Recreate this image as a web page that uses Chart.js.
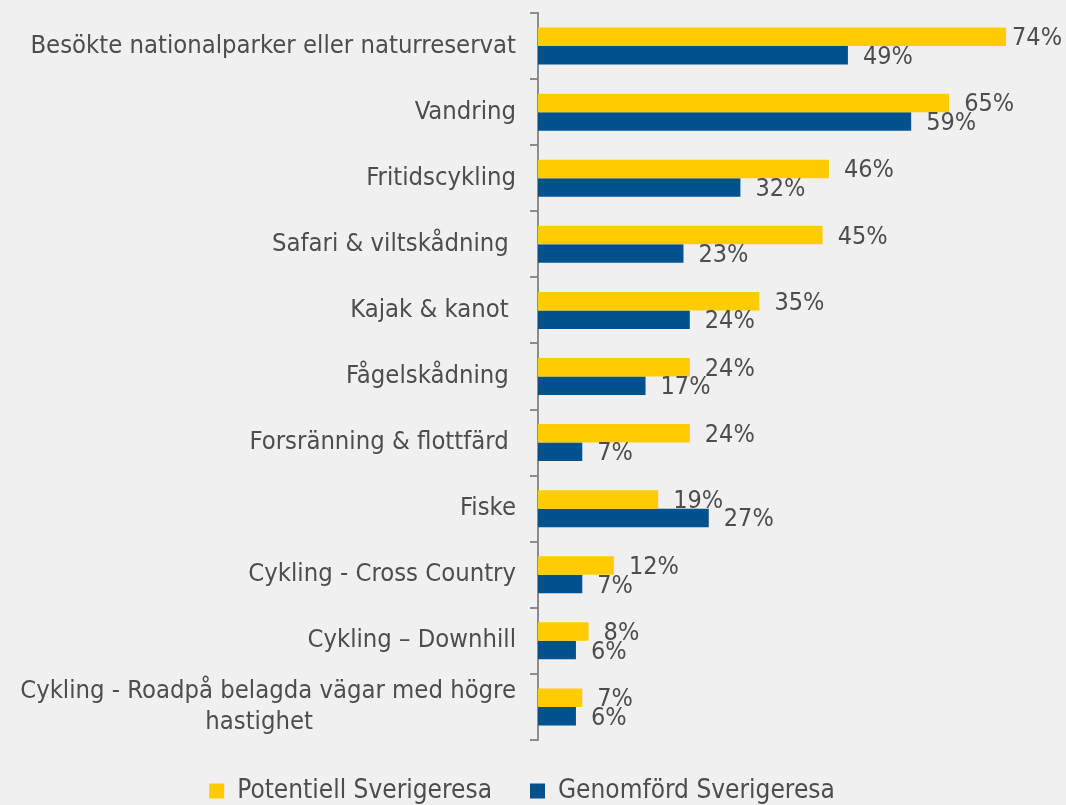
<!DOCTYPE html>
<html>
<head>
<meta charset="utf-8">
<script src="https://cdn.jsdelivr.net/npm/chart.js@4/dist/chart.umd.min.js"></script>
<style>
  html, body { margin: 0; padding: 0; background: #f0f0f0; }
  #wrap { width: 1066px; height: 805px; }
</style>
</head>
<body>
<div id="wrap"><canvas id="chart" width="1066" height="805"></canvas></div>
<script>
const categories = [
  'Besökte nationalparker eller naturreservat',
  'Vandring',
  'Fritidscykling',
  'Safari & viltskådning ',
  'Kajak & kanot ',
  'Fågelskådning ',
  'Forsränning & flottfärd ',
  'Fiske',
  'Cykling - Cross Country',
  'Cykling – Downhill',
  ['Cykling - Roadpå belagda vägar med högre', 'hastighet                            ']
];
const potentiell = [74, 65, 46, 45, 35, 24, 24, 19, 12, 8, 7];
const genomford = [49, 59, 32, 23, 24, 17, 7, 27, 7, 6, 6];
const seriesNames = ['Potentiell Sverigeresa', 'Genomförd Sverigeresa'];

const FONT = "'Liberation Sans Narrow', 'DejaVu Sans Condensed', 'Roboto', sans-serif";
const TEXT = '#4d4d4d';

// value labels just right of each bar end, kept inside the canvas
const valueLabels = {
  id: 'valueLabels',
  afterDatasetsDraw(chart) {
    const ctx = chart.ctx;
    ctx.save();
    ctx.font = '25px ' + FONT;
    ctx.fillStyle = TEXT;
    ctx.textAlign = 'left';
    ctx.textBaseline = 'middle';
    chart.data.datasets.forEach((ds, i) => {
      chart.getDatasetMeta(i).data.forEach((bar, j) => {
        const txt = ds.data[j] + '%';
        const w = ctx.measureText(txt).width;
        const x = Math.min(bar.x + 15, chart.width - 4 - w);
        ctx.fillText(txt, x, bar.y + 2);
      });
    });
    ctx.restore();
  }
};

new Chart(document.getElementById('chart'), {
  type: 'bar',
  data: {
    labels: categories,
    datasets: [{
      label: seriesNames[0],
      data: potentiell,
      backgroundColor: '#ffcc00',
      categoryPercentage: 0.56,
      barPercentage: 1
    }, {
      label: seriesNames[1],
      data: genomford,
      backgroundColor: '#00528f',
      categoryPercentage: 0.56,
      barPercentage: 1
    }]
  },
  options: {
    indexAxis: 'y',
    responsive: false,
    animation: false,
    layout: { padding: { top: 13, right: 22, bottom: -9, left: 0 } },
    scales: {
      x: {
        display: false,
        min: 0,
        max: 80
      },
      y: {
        afterFit: (scale) => {
          scale.width = 538;
          scale.paddingTop = 0;
          scale.paddingBottom = 0;
        },
        border: { color: '#8c8c8c', width: 2 },
        grid: {
          drawOnChartArea: false,
          color: '#8c8c8c',
          lineWidth: 2,
          tickLength: 8
        },
        ticks: {
          color: TEXT,
          padding: 14,
          font: { family: FONT, size: 25.4 }
        }
      }
    },
    plugins: {
      legend: {
        position: 'bottom',
        labels: {
          color: TEXT,
          boxWidth: 15,
          boxHeight: 15,
          padding: 38,
          font: { family: FONT, size: 26 }
        }
      },
      tooltip: { enabled: false }
    }
  },
  plugins: [valueLabels]
});
</script>
</body>
</html>
